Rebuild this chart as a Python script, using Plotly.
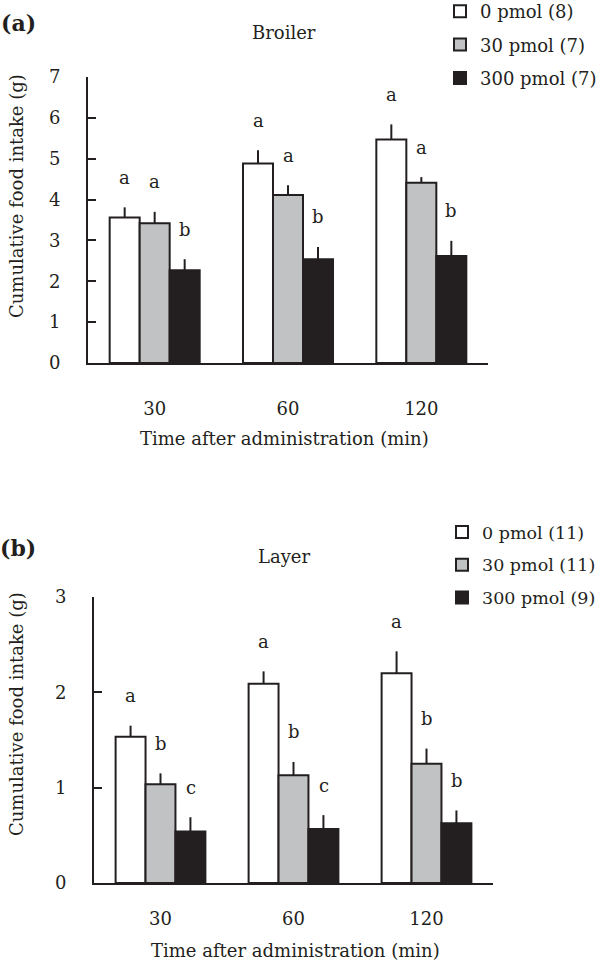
import plotly.graph_objects as go

# ---------------- data ----------------
categories = ["30", "60", "120"]

# Panel (a) Broiler
a_names = ["0 pmol (8)", "30 pmol (7)", "300 pmol (7)"]
a_mean_0 = [3.56, 4.88, 5.47]
a_se_0 = [0.25, 0.33, 0.37]
a_mean_30 = [3.42, 4.11, 4.41]
a_se_30 = [0.28, 0.24, 0.14]
a_mean_300 = [2.27, 2.54, 2.62]
a_se_300 = [0.27, 0.30, 0.37]
a_letters_0 = ["a", "a", "a"]
a_letters_30 = ["a", "a", "a"]
a_letters_300 = ["b", "b", "b"]

# Panel (b) Layer
b_names = ["0 pmol (11)", "30 pmol (11)", "300 pmol (9)"]
b_mean_0 = [1.535, 2.09, 2.20]
b_se_0 = [0.115, 0.13, 0.23]
b_mean_30 = [1.035, 1.13, 1.25]
b_se_30 = [0.115, 0.14, 0.16]
b_mean_300 = [0.54, 0.567, 0.626]
b_se_300 = [0.15, 0.145, 0.135]
b_letters_0 = ["a", "a", "a"]
b_letters_30 = ["b", "b", "b"]
b_letters_300 = ["c", "c", "b"]

# ---------------- style ----------------
FONT = "DejaVu Serif"
INK = "#231f20"
FILLS = ["#ffffff", "#c1c2c4", "#231f20"]
FS = 18

W, H = 600, 969

fig = go.Figure()

panels = [
    dict(xa="x", ya="y", leg="legend",
         names=a_names,
         means=[a_mean_0, a_mean_30, a_mean_300],
         ses=[a_se_0, a_se_30, a_se_300],
         letters=[a_letters_0, a_letters_30, a_letters_300]),
    dict(xa="x2", ya="y2", leg="legend2",
         names=b_names,
         means=[b_mean_0, b_mean_30, b_mean_300],
         ses=[b_se_0, b_se_30, b_se_300],
         letters=[b_letters_0, b_letters_30, b_letters_300]),
]

annotations = []
BAR_PX = 30
for p_i, p in enumerate(panels):
    for i in range(3):
        fig.add_trace(go.Bar(
            x=categories, y=p["means"][i], name=p["names"][i],
            xaxis=p["xa"], yaxis=p["ya"], legend=p["leg"],
            legendgroup=f"g{p_i}{i}",
            marker=dict(color=FILLS[i], line=dict(color=INK, width=2)),
            error_y=dict(type="data", symmetric=False, array=p["ses"][i],
                         arrayminus=[0] * 3, width=0, thickness=2, color=INK),
        ))
        for j, (m, s, t) in enumerate(zip(p["means"][i], p["ses"][i], p["letters"][i])):
            annotations.append(dict(
                x=j, y=m + s, xref=p["xa"], yref=p["ya"], text=t,
                showarrow=False, xshift=(i - 1) * BAR_PX,
                yshift=30, yanchor="middle",
                font=dict(family=FONT, size=FS, color=INK)))

def px_x(v):
    return v / W

def px_y(v):
    return 1 - v / H

# panel titles / labels
texts = [
    ("<b>(a)</b>", 18, 23, 0, 22),
    ("Broiler", 284, 32, 0, FS),
    ("<b>(b)</b>", 18, 548, 0, 22),
    ("Layer", 284, 556, 0, FS),
    ("Cumulative food intake (g)", 16, 196, -90, FS),
    ("Cumulative food intake (g)", 16, 714, -90, FS),
    ("Time after administration (min)", 284, 438, 0, FS),
    ("Time after administration (min)", 295, 950, 0, FS),
]
for t, x, y, ang, fs in texts:
    annotations.append(dict(
        x=px_x(x), y=px_y(y), xref="paper", yref="paper", text=t,
        showarrow=False, textangle=ang, xanchor="center", yanchor="middle",
        font=dict(family=FONT, size=fs, color=INK)))

xcommon = dict(type="category", showline=True, linewidth=2, linecolor=INK,
               ticks="", showgrid=False, zeroline=False, range=[-0.5, 2.5],
               tickfont=dict(family=FONT, size=FS, color=INK),
               automargin=False)
ycommon = dict(showline=True, linewidth=2, linecolor=INK, ticks="inside",
               ticklen=8, tickwidth=2, tickcolor=INK, showgrid=False,
               zeroline=False, tickfont=dict(family=FONT, size=FS, color=INK),
               ticklabelstandoff=22, automargin=False)

legcommon = dict(bgcolor="rgba(0,0,0,0)", tracegroupgap=7,
                 xref="paper", yref="paper",
                 xanchor="left", yanchor="top", itemwidth=30)

fig.update_layout(
    width=W, height=H,
    margin=dict(l=0, r=0, t=0, b=0, autoexpand=False),
    paper_bgcolor="white", plot_bgcolor="white",
    barmode="group", bargap=0.325, bargroupgap=0,
    showlegend=True,
    xaxis=dict(domain=[px_x(88), px_x(488)], anchor="y",
               ticklabelstandoff=28, **xcommon),
    yaxis=dict(domain=[px_y(363), px_y(77)], anchor="x", range=[0, 7],
               dtick=1, **ycommon),
    xaxis2=dict(domain=[px_x(94), px_x(493)], anchor="y2",
                ticklabelstandoff=18, **xcommon),
    yaxis2=dict(domain=[px_y(883), px_y(597)], anchor="x2", range=[0, 3],
                dtick=1, **ycommon),
    legend=dict(x=px_x(440), y=px_y(-7),
                font=dict(family=FONT, size=FS, color=INK), **legcommon),
    legend2=dict(x=px_x(442), y=px_y(514),
                 font=dict(family=FONT, size=17.5, color=INK), **legcommon),
    annotations=annotations,
)

# remove the default 8px body margin so the figure fills the window exactly
fig.write_html("out.html", config={"displayModeBar": False},
               post_script="document.body.style.margin='0';")
